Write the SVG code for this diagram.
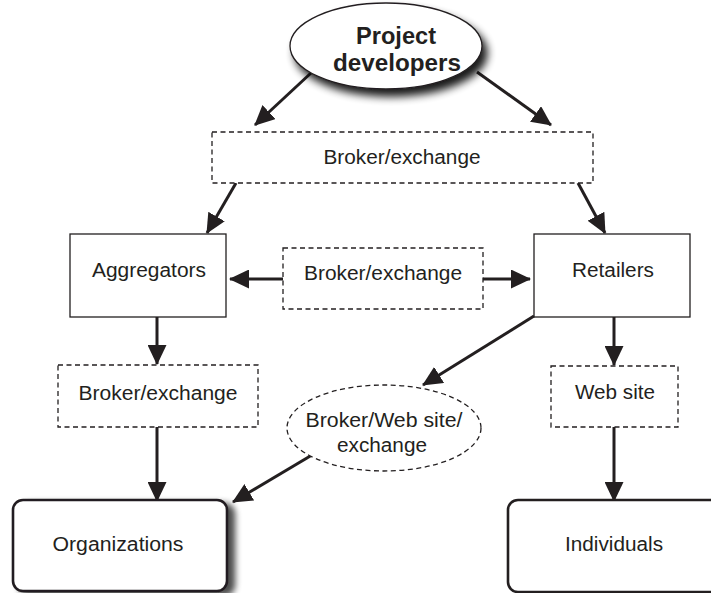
<svg xmlns="http://www.w3.org/2000/svg" width="711" height="593" viewBox="0 0 711 593">
<defs>
<style>
.t{font-family:"Liberation Sans",Arial,sans-serif;font-size:19.5px;fill:#231f20;text-anchor:middle}
.b{font-family:"Liberation Sans",Arial,sans-serif;font-size:23px;font-weight:bold;fill:#231f20;text-anchor:middle}
.box{fill:#fff;stroke:#231f20;stroke-width:1.3}
.dash{fill:#fff;stroke:#231f20;stroke-width:1.3;stroke-dasharray:5 3.5}
.rnd{fill:#fff;stroke:#231f20;stroke-width:2.6}
.arr{fill:none;stroke:#231f20;stroke-width:3;marker-end:url(#ah)}
</style>
<marker id="ah" markerUnits="userSpaceOnUse" markerWidth="21" markerHeight="19" refX="19" refY="9.5" orient="auto">
<path d="M0,0 L20,9.5 L0,19 Z" fill="#231f20"/>
</marker>
<filter id="sh" x="-20%" y="-20%" width="150%" height="160%">
<feGaussianBlur in="SourceAlpha" stdDeviation="4"/>
<feOffset dx="5" dy="7" result="o"/>
<feComponentTransfer><feFuncA type="linear" slope="0.9"/></feComponentTransfer>
<feMerge><feMergeNode/><feMergeNode in="SourceGraphic"/></feMerge>
</filter>
<filter id="sh2" x="-10%" y="-10%" width="130%" height="130%">
<feGaussianBlur in="SourceAlpha" stdDeviation="3"/>
<feOffset dx="7" dy="4" result="o"/>
<feComponentTransfer><feFuncA type="linear" slope="0.7"/></feComponentTransfer>
<feMerge><feMergeNode/><feMergeNode in="SourceGraphic"/></feMerge>
</filter>
</defs>
<rect width="711" height="593" fill="#fff"/>

<g id="connectors">
<line class="arr" x1="311" y1="73" x2="255" y2="125"/>
<line class="arr" x1="477" y1="72" x2="551" y2="125"/>
<line class="arr" x1="236" y1="183" x2="207" y2="233"/>
<line class="arr" x1="578" y1="183" x2="605" y2="233"/>
<line class="arr" x1="283" y1="279" x2="230" y2="279"/>
<line class="arr" x1="483" y1="279" x2="530" y2="279"/>
<line class="arr" x1="157" y1="317" x2="157" y2="364"/>
<line class="arr" x1="157" y1="427" x2="157" y2="501"/>
<line class="arr" x1="614" y1="317" x2="614" y2="365"/>
<line class="arr" x1="614" y1="427" x2="614" y2="501"/>
<line class="arr" x1="534" y1="316" x2="423" y2="385"/>
<line class="arr" x1="312" y1="455" x2="233" y2="502"/>
</g>

<g id="project-developers">
<ellipse cx="386" cy="46" rx="96" ry="43" fill="#fff" stroke="#231f20" stroke-width="1.3" filter="url(#sh)"/>
<text class="b" x="396" y="44" textLength="80" lengthAdjust="spacingAndGlyphs">Project</text>
<text class="b" x="397" y="71" textLength="128" lengthAdjust="spacingAndGlyphs">developers</text>
</g>

<g id="broker-top">
<rect class="dash" x="212" y="132" width="381" height="51"/>
<text class="t" x="402" y="164" textLength="157" lengthAdjust="spacingAndGlyphs">Broker/exchange</text>
</g>

<g id="aggregators">
<rect class="box" x="70" y="234" width="156" height="83"/>
<text class="t" x="149" y="277" textLength="114" lengthAdjust="spacingAndGlyphs">Aggregators</text>
</g>

<g id="broker-middle">
<rect class="dash" x="283" y="248" width="200" height="61"/>
<text class="t" x="383" y="280" textLength="158" lengthAdjust="spacingAndGlyphs">Broker/exchange</text>
</g>

<g id="retailers">
<rect class="box" x="534" y="234" width="156" height="83"/>
<text class="t" x="613" y="277" textLength="82" lengthAdjust="spacingAndGlyphs">Retailers</text>
</g>

<g id="broker-left">
<rect class="dash" x="58" y="365" width="200" height="62"/>
<text class="t" x="158" y="400" textLength="159" lengthAdjust="spacingAndGlyphs">Broker/exchange</text>
</g>

<g id="web-site">
<rect class="dash" x="551" y="366" width="127" height="61"/>
<text class="t" x="615" y="399" textLength="80" lengthAdjust="spacingAndGlyphs">Web site</text>
</g>

<g id="broker-web-exchange">
<ellipse class="dash" cx="384" cy="428" rx="97" ry="43"/>
<text class="t" x="384" y="427" textLength="157" lengthAdjust="spacingAndGlyphs">Broker/Web site/</text>
<text class="t" x="382" y="452" textLength="90" lengthAdjust="spacingAndGlyphs">exchange</text>
</g>

<g id="organizations">
<rect class="rnd" x="13" y="500" width="214" height="91" rx="10" filter="url(#sh2)"/>
<text class="t" x="118" y="551" textLength="131" lengthAdjust="spacingAndGlyphs">Organizations</text>
</g>

<g id="individuals">
<rect class="rnd" x="508" y="500" width="214" height="92" rx="10"/>
<text class="t" x="614" y="551" textLength="98" lengthAdjust="spacingAndGlyphs">Individuals</text>
</g>
</svg>
